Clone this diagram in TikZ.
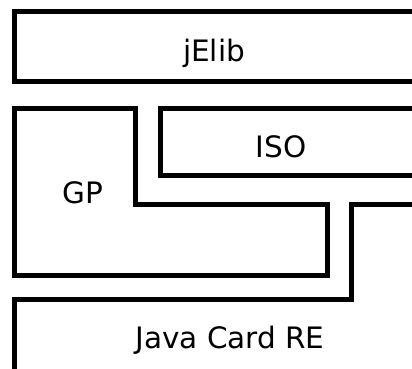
\documentclass[tikz,border=0pt]{standalone}
\usepackage{fontspec}
\setmainfont{DejaVu Sans}
\usepackage{tikz}

\begin{document}
\begin{tikzpicture}[x=1pt, y=-1pt, line width=5pt, line join=miter,
    every node/.style={anchor=base, inner sep=0pt, font=\fontsize{29.5}{35}\selectfont}]

\useasboundingbox (0, 0) rectangle (412, 369);
\clip (0, 0) rectangle (412, 369);

\draw (430, 12) -- (14.5, 12) -- (14.5, 81.5) -- (430, 81.5);
\node (jelib) at (214, 61) {jElib};

\draw (14.5, 108) -- (135, 108) -- (135, 204) -- (327.5, 204) -- (327.5, 275.5) -- (14.5, 275.5) -- cycle;
\node (gp) at (82.5, 203) {GP};

\draw (430, 108) -- (160, 108) -- (160, 175.5) -- (430, 175.5);
\node (iso) at (281, 157) {ISO};

\draw (14.5, 390) -- (14.5, 299) -- (351.5, 299) -- (351.5, 204) -- (430, 204);
\node (jcre) at (230, 348) {Java Card RE};
\end{tikzpicture}
\end{document}
